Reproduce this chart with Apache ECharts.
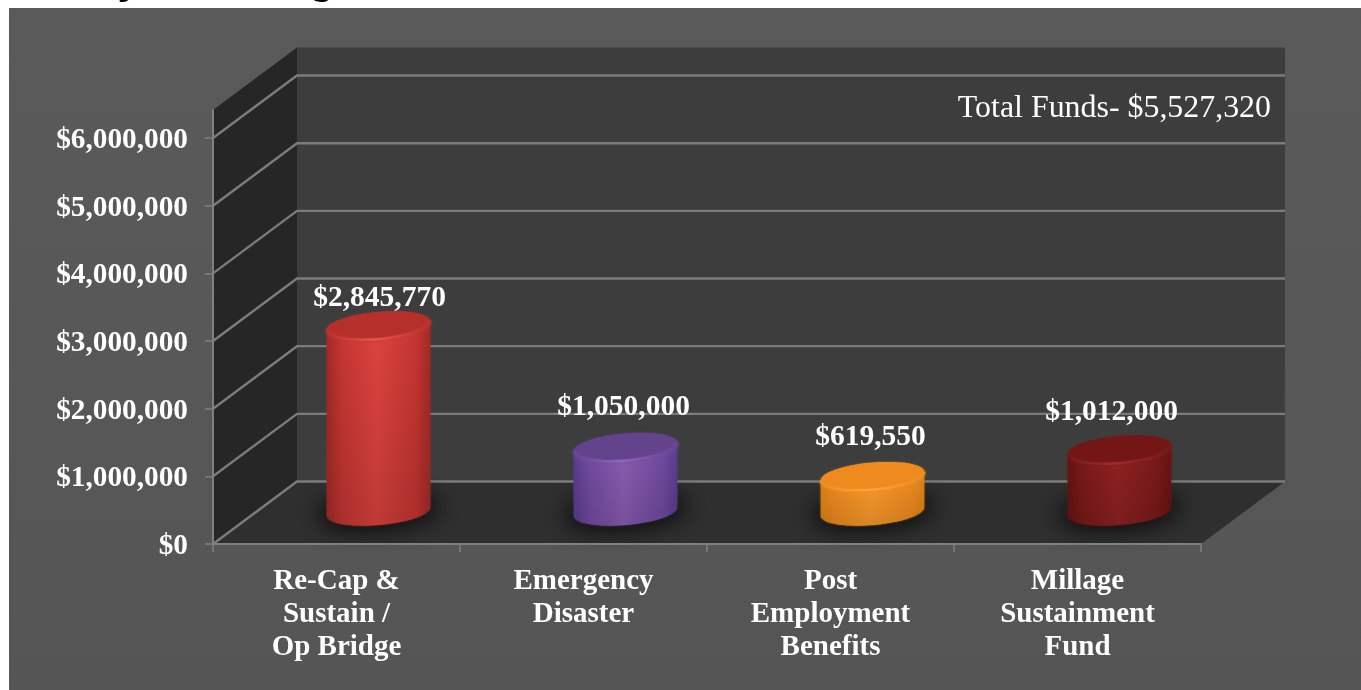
<!DOCTYPE html>
<html>
<head>
<meta charset="utf-8">
<style>html,body{margin:0;padding:0;background:#fff}#chart{width:1361px;height:690px}</style>
<script src="https://cdn.jsdelivr.net/npm/echarts@6/dist/echarts.min.js"></script>
</head>
<body>
<div id="chart"></div>
<script>
// Fund balances by category
const categories = ['Re-Cap &\nSustain /\nOp Bridge', 'Emergency\nDisaster', 'Post\nEmployment\nBenefits', 'Millage\nSustainment\nFund'];
const fundValues = [2845770, 1050000, 619550, 1012000];
const yTicks = [0, 1000000, 2000000, 3000000, 4000000, 5000000, 6000000];
const yTop = 6414000;
const totalNote = 'Total Funds- $5,527,320';
const slideTitle = 'Project Funding';

// Cylinder colours: edge, side, highlight, cap, rim
const palettes = [
  ['#a52a26', '#c63632', '#de443f', '#b5302b', '#e8564e'],
  ['#5c3d90', '#724ba1', '#8c5eb4', '#62438c', '#9266bc'],
  ['#e08318', '#f08c20', '#fd9c2c', '#ee8a1e', '#fca63c'],
  ['#681313', '#7c1a1a', '#922222', '#751616', '#a02e2e']
];
// Hand placement of the value labels relative to each cylinder
const labelNudge = [[1, -27], [-2, -40], [-2, -38.5], [-8, -37.5]];

// 3D box depth in pixels
const depthX = 84, depthY = -62.5;
const tilt = -5 * Math.PI / 180;
const serif = '"Liberation Serif", "Times New Roman", serif';

const money = v => '$' + v.toLocaleString('en-US');

function ellipsePoint(cx, cy, a, b, t) {
  const c = Math.cos(t), s = Math.sin(t);
  return [
    cx + a * c * Math.cos(tilt) - b * s * Math.sin(tilt),
    cy + a * c * Math.sin(tilt) + b * s * Math.cos(tilt)
  ];
}
function arc(cx, cy, a, b, from, to, n) {
  const pts = [];
  for (let i = 0; i <= n; i++) pts.push(ellipsePoint(cx, cy, a, b, from + (to - from) * i / n));
  return pts;
}

// Walls, floor and the gridlines that wrap around them
function renderFrame(params, api) {
  const g = params.coordSys;
  const L = g.x, R = g.x + g.width, T = g.y, B = g.y + g.height;
  const children = [
    { type: 'polygon', shape: { points: [[L + depthX, T + depthY], [R + depthX, T + depthY], [R + depthX, B + depthY], [L + depthX, B + depthY]] }, style: { fill: '#3d3d3d' } },
    { type: 'polygon', shape: { points: [[L, T], [L + depthX, T + depthY], [L + depthX, B + depthY], [L, B]] }, style: { fill: '#262626' } },
    { type: 'polygon', shape: { points: [[L, B], [L + depthX, B + depthY], [R + depthX, B + depthY], [R, B]] }, style: { fill: '#2f2f2f' } }
  ];
  yTicks.forEach(v => {
    const y = api.coord([0, v])[1];
    children.push({ type: 'polyline', shape: { points: [[L, y], [L + depthX, y + depthY], [R + depthX, y + depthY]] }, style: { stroke: '#7c7c7c', lineWidth: 2.4, fill: null } });
  });
  return { type: 'group', children };
}

// One cylinder standing mid-way along the floor depth
function renderCylinder(params, api) {
  const i = api.value(0), v = api.value(1);
  const base = api.coord([i, 0]), top = api.coord([i, v]);
  const cx = base[0] + depthX / 2;
  const by = base[1] + depthY / 2 - 1.25, ty = top[1] + depthY / 2 + 5.25;
  const a = api.size([1, 0])[0] * 0.21, b = 13.5;
  const p = palettes[i];
  const capFront = arc(cx, ty, a, b, 0, Math.PI, 36);
  const baseFront = arc(cx, by, a, b, Math.PI, 0, 36);
  const capAll = arc(cx, ty, a, b, 0, Math.PI * 2, 72);
  const nudge = labelNudge[i];
  const park = 3000; // the caster sits off-canvas so only its blurred shadow lands on the floor
  const floorShadow = arc(cx - park, by - 1, a + 8, b + 3, 0, Math.PI * 2, 72);
  return {
    type: 'group',
    children: [
      { type: 'polygon', shape: { points: floorShadow },
        style: { fill: '#000', shadowBlur: 24, shadowOffsetX: park, shadowColor: 'rgba(0,0,0,0.95)' } },
      { type: 'polygon', shape: { points: baseFront.concat(capFront) },
        style: { shadowBlur: 2, shadowColor: p[0], fill: { type: 'linear', x: 0, y: 0, x2: 1, y2: 0, colorStops: [
          { offset: 0, color: p[0] }, { offset: 0.14, color: p[1] }, { offset: 0.48, color: p[2] }, { offset: 0.86, color: p[1] }, { offset: 1, color: p[0] }
        ] } } },
      { type: 'polygon', shape: { points: baseFront.concat(capFront) },
        style: { fill: { type: 'linear', x: 0, y: 0, x2: 0, y2: 1, colorStops: [
          { offset: 0, color: 'rgba(0,0,0,0)' }, { offset: 1, color: 'rgba(0,0,0,0.14)' }
        ] } } },
      { type: 'polygon', shape: { points: capAll }, style: { fill: p[3], shadowBlur: 1.5, shadowColor: p[3] } },
      { type: 'polyline', shape: { points: capFront },
        style: { lineWidth: 2.5, fill: null, shadowBlur: 3, shadowColor: p[1], stroke: { type: 'linear', x: 0, y: 0, x2: 1, y2: 0, colorStops: [
          { offset: 0, color: p[3] }, { offset: 0.45, color: p[4] }, { offset: 1, color: p[3] }
        ] } } },
      { type: 'text', style: { text: money(v), x: cx + nudge[0], y: ty + nudge[1], fill: '#ffffff', font: 'bold 29.5px ' + serif, align: 'center', verticalAlign: 'middle' } }
    ]
  };
}

const chart = echarts.init(document.getElementById('chart'), null, { renderer: 'canvas' });
chart.setOption({
  animation: false,
  backgroundColor: '#ffffff',
  graphic: [
    { type: 'rect', z: -10, shape: { x: 9, y: 8, width: 1352, height: 682 },
      style: { fill: { type: 'linear', x: 0, y: 0, x2: 0, y2: 1, colorStops: [{ offset: 0, color: '#5a5a5a' }, { offset: 1, color: '#555555' }] } } },
    { type: 'text', z: 10, style: { text: totalNote, x: 1271, y: 108.5, fill: '#ffffff', font: '31.9px ' + serif, align: 'right', verticalAlign: 'middle' } },
    { type: 'text', z: -11, style: { text: slideTitle, x: 60, y: 2, fill: '#000000', font: 'bold 39px ' + serif, align: 'left', verticalAlign: 'bottom' } }
  ],
  grid: { left: 213, top: 110, width: 988, height: 434, containLabel: false },
  xAxis: {
    type: 'category', data: categories, z: 5,
    axisLine: { lineStyle: { color: '#808080', width: 2 } },
    axisTick: { show: true, length: 8, lineStyle: { color: '#808080', width: 1.5 } },
    axisLabel: { color: '#ffffff', fontFamily: serif, fontWeight: 'bold', fontSize: 29, lineHeight: 33, margin: 21, interval: 0 },
    splitLine: { show: false }
  },
  yAxis: {
    type: 'value', min: 0, max: yTop, z: 5,
    axisLine: { show: true, lineStyle: { color: '#808080', width: 2 } },
    axisTick: { show: true, length: 8, customValues: yTicks, lineStyle: { color: '#808080', width: 1.5 } },
    axisLabel: { color: '#ffffff', fontFamily: serif, fontWeight: 'bold', fontSize: 29.3, margin: 25, verticalAlign: 'top', lineHeight: 5, customValues: yTicks, formatter: money },
    splitLine: { show: false }
  },
  series: [
    { type: 'custom', z: 1, silent: true, renderItem: renderFrame, data: [[0, 0]], encode: { x: 0, y: 1 } },
    { type: 'custom', z: 3, renderItem: renderCylinder, data: fundValues.map((v, i) => [i, v]), encode: { x: 0, y: 1 } }
  ]
});
</script>
</body>
</html>
